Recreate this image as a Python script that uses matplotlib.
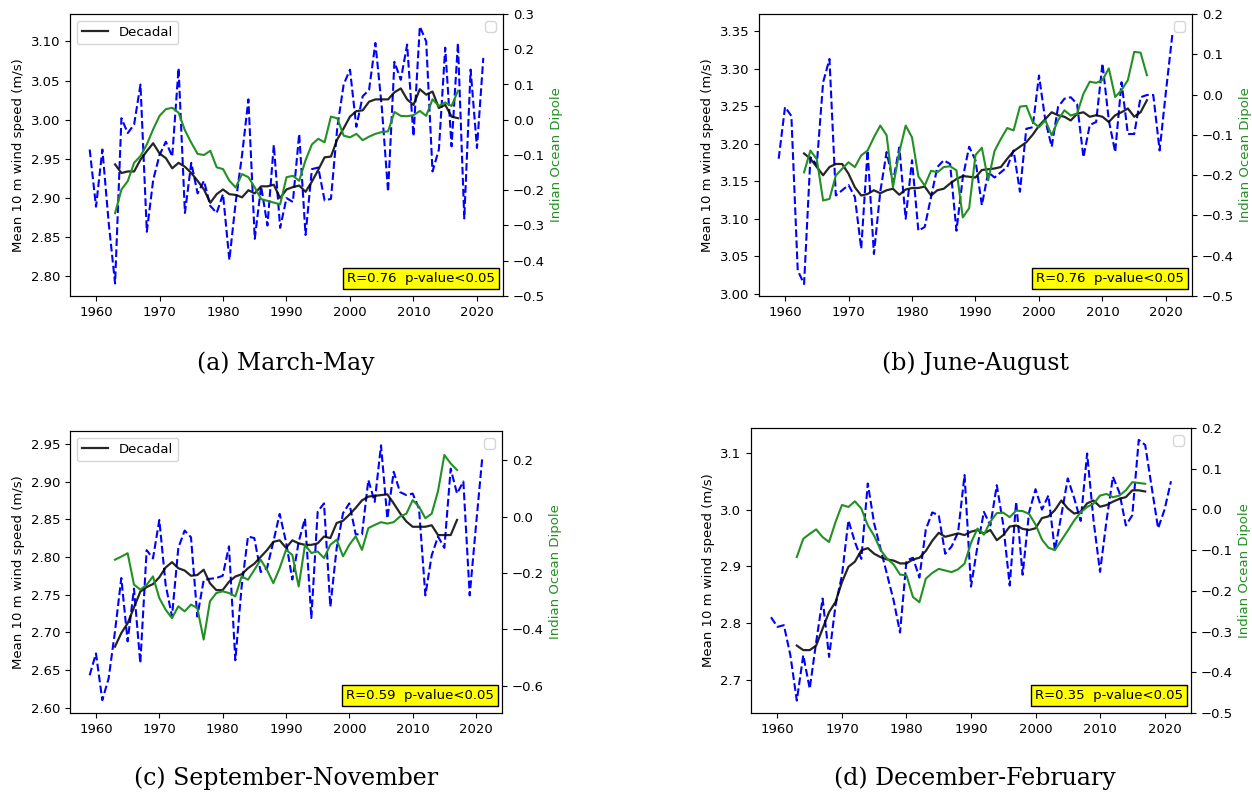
import numpy as np
import matplotlib
matplotlib.use('Agg')
import matplotlib.pyplot as plt
from matplotlib.ticker import MultipleLocator

# years for the seasonal means and for the decadal / IOD curves
years = np.arange(1959, 2022)
years_dec = np.arange(1963, 2018)

# (a) March-May
mam_wind = [2.962, 2.889, 2.962, 2.868, 2.791, 3.002, 2.983, 2.994, 3.045, 2.857,
            2.923, 2.955, 2.972, 2.953, 3.066, 2.881, 2.945, 2.906, 2.922, 2.890,
            2.881, 2.905, 2.821, 2.895, 2.955, 3.026, 2.848, 2.915, 2.865, 2.968,
            2.862, 2.900, 2.895, 2.982, 2.853, 2.937, 2.939, 2.897, 2.899, 2.990,
            3.045, 3.064, 2.991, 3.030, 3.038, 3.098, 3.017, 2.908, 3.074, 3.051,
            3.096, 2.979, 3.119, 3.100, 2.934, 2.962, 3.092, 2.966, 3.098, 2.874,
            3.064, 2.964, 3.079]
mam_decadal = [2.943, 2.932, 2.934, 2.934, 2.949, 2.960, 2.970, 2.957, 2.951, 2.938,
               2.945, 2.940, 2.932, 2.922, 2.911, 2.894, 2.905, 2.911, 2.905, 2.904,
               2.901, 2.910, 2.906, 2.915, 2.915, 2.917, 2.900, 2.911, 2.914, 2.916,
               2.908, 2.921, 2.936, 2.952, 2.953, 2.975, 2.989, 3.004, 3.011, 3.012,
               3.023, 3.026, 3.026, 3.026, 3.035, 3.040, 3.026, 3.019, 3.039, 3.032,
               3.036, 3.015, 3.019, 3.004, 3.002]
mam_iod = [-0.265, -0.198, -0.174, -0.122, -0.103, -0.070, -0.027, 0.011, 0.030, 0.034,
           0.020, -0.030, -0.065, -0.097, -0.100, -0.088, -0.135, -0.140, -0.173, -0.192,
           -0.154, -0.163, -0.192, -0.225, -0.230, -0.235, -0.240, -0.163, -0.159, -0.173,
           -0.115, -0.070, -0.054, -0.064, 0.009, 0.004, -0.045, -0.050, -0.040, -0.058,
           -0.048, -0.040, -0.035, -0.033, 0.022, 0.011, 0.010, 0.013, 0.025, 0.011,
           0.058, 0.039, 0.049, 0.039, 0.082]

# (b) June-August
jja_wind = [3.180, 3.249, 3.237, 3.031, 3.013, 3.182, 3.172, 3.282, 3.313, 3.131,
            3.138, 3.145, 3.129, 3.060, 3.191, 3.053, 3.136, 3.189, 3.149, 3.195,
            3.100, 3.178, 3.084, 3.089, 3.129, 3.169, 3.178, 3.173, 3.084, 3.155,
            3.196, 3.178, 3.118, 3.162, 3.155, 3.162, 3.169, 3.191, 3.136, 3.220,
            3.222, 3.291, 3.231, 3.196, 3.249, 3.260, 3.262, 3.253, 3.182, 3.225,
            3.229, 3.307, 3.231, 3.189, 3.282, 3.213, 3.213, 3.262, 3.265, 3.265,
            3.191, 3.270, 3.345]
jja_decadal = [3.187, 3.180, 3.169, 3.158, 3.169, 3.173, 3.173, 3.160, 3.142, 3.131,
               3.133, 3.138, 3.134, 3.138, 3.140, 3.132, 3.139, 3.141, 3.141, 3.143,
               3.131, 3.138, 3.140, 3.147, 3.153, 3.157, 3.156, 3.155, 3.165, 3.166,
               3.167, 3.169, 3.180, 3.190, 3.196, 3.202, 3.212, 3.224, 3.233, 3.242,
               3.238, 3.236, 3.231, 3.240, 3.242, 3.236, 3.238, 3.236, 3.229, 3.238,
               3.242, 3.247, 3.236, 3.242, 3.258]
jja_iod = [-0.193, -0.139, -0.160, -0.263, -0.259, -0.201, -0.184, -0.168, -0.180, -0.151,
           -0.139, -0.106, -0.077, -0.101, -0.230, -0.143, -0.077, -0.106, -0.203, -0.226,
           -0.189, -0.193, -0.180, -0.178, -0.188, -0.305, -0.282, -0.150, -0.132, -0.213,
           -0.140, -0.110, -0.083, -0.089, -0.030, -0.028, -0.068, -0.081, -0.064, -0.101,
           -0.064, -0.039, -0.052, -0.047, 0.002, 0.032, 0.029, 0.036, 0.065, -0.006,
           0.011, 0.036, 0.106, 0.104, 0.048]

# (c) September-November
son_wind = [2.643, 2.672, 2.610, 2.639, 2.701, 2.772, 2.688, 2.758, 2.659, 2.809,
            2.798, 2.849, 2.763, 2.721, 2.812, 2.835, 2.826, 2.721, 2.769, 2.771,
            2.772, 2.775, 2.814, 2.663, 2.761, 2.827, 2.825, 2.780, 2.785, 2.820,
            2.857, 2.820, 2.770, 2.820, 2.851, 2.719, 2.860, 2.871, 2.734, 2.812,
            2.858, 2.871, 2.830, 2.830, 2.902, 2.873, 2.948, 2.851, 2.913, 2.886,
            2.882, 2.884, 2.864, 2.749, 2.802, 2.827, 2.812, 2.917, 2.884, 2.900,
            2.749, 2.842, 2.933]
son_decadal = [2.681, 2.699, 2.712, 2.733, 2.754, 2.760, 2.764, 2.773, 2.786, 2.793,
               2.785, 2.782, 2.775, 2.776, 2.783, 2.765, 2.756, 2.756, 2.767, 2.774,
               2.777, 2.785, 2.791, 2.800, 2.809, 2.820, 2.822, 2.812, 2.822, 2.818,
               2.816, 2.816, 2.818, 2.827, 2.825, 2.845, 2.848, 2.856, 2.865, 2.875,
               2.880, 2.881, 2.882, 2.883, 2.871, 2.858, 2.847, 2.840, 2.840, 2.840,
               2.842, 2.829, 2.829, 2.829, 2.849]
son_iod = [-0.153, -0.142, -0.130, -0.241, -0.259, -0.242, -0.212, -0.289, -0.330, -0.360,
           -0.318, -0.336, -0.312, -0.324, -0.436, -0.300, -0.271, -0.265, -0.271, -0.283,
           -0.212, -0.224, -0.189, -0.153, -0.189, -0.236, -0.183, -0.118, -0.136, -0.248,
           -0.100, -0.129, -0.124, -0.147, -0.100, -0.082, -0.141, -0.100, -0.070, -0.118,
           -0.041, -0.030, -0.020, -0.025, -0.020, 0.000, 0.010, 0.058, 0.035, -0.006,
           0.010, 0.090, 0.218, 0.188, 0.165]

# (d) December-February
djf_wind = [2.810, 2.793, 2.796, 2.743, 2.663, 2.743, 2.684, 2.766, 2.843, 2.740,
            2.831, 2.884, 2.981, 2.943, 2.913, 3.046, 2.975, 2.930, 2.885, 2.840,
            2.783, 2.910, 2.915, 2.880, 2.965, 2.995, 2.990, 2.922, 2.935, 2.960,
            3.061, 2.864, 2.935, 2.996, 2.972, 3.043, 2.973, 2.866, 3.014, 2.885,
            2.995, 3.036, 3.000, 3.025, 2.928, 2.990, 3.055, 3.020, 2.980, 3.099,
            2.980, 2.890, 2.980, 3.058, 3.030, 2.972, 2.990, 3.123, 3.114, 3.040,
            2.967, 3.000, 3.050]
djf_decadal = [2.760, 2.752, 2.752, 2.760, 2.790, 2.819, 2.837, 2.872, 2.899, 2.908,
               2.928, 2.932, 2.922, 2.916, 2.912, 2.910, 2.905, 2.905, 2.912, 2.915,
               2.927, 2.945, 2.959, 2.952, 2.955, 2.958, 2.955, 2.961, 2.964, 2.958,
               2.964, 2.946, 2.955, 2.970, 2.972, 2.966, 2.964, 2.967, 2.985, 2.988,
               2.999, 3.016, 3.002, 2.993, 2.996, 3.011, 3.016, 3.005, 3.008, 3.014,
               3.019, 3.022, 3.034, 3.034, 3.032]
djf_iod = [-0.117, -0.072, -0.060, -0.049, -0.068, -0.080, -0.031, 0.011, 0.006, 0.020,
           0.002, -0.039, -0.065, -0.100, -0.121, -0.135, -0.160, -0.162, -0.215, -0.228,
           -0.170, -0.156, -0.146, -0.150, -0.154, -0.147, -0.133, -0.082, -0.047, -0.062,
           -0.030, -0.009, -0.008, -0.019, -0.003, -0.004, -0.011, -0.037, -0.074, -0.094,
           -0.100, -0.076, -0.052, -0.027, -0.007, 0.006, 0.014, 0.034, 0.038, 0.030,
           0.034, 0.047, 0.067, 0.065, 0.063]

captions = ['(a) March-May', '(b) June-August',
            '(c) September-November', '(d) December-February']
r_labels = ['R=0.76  p-value<0.05', 'R=0.76  p-value<0.05',
            'R=0.59  p-value<0.05', 'R=0.35  p-value<0.05']

FS = 9.5
GREEN = '#229022'

fig = plt.figure(figsize=(12.52, 7.95), dpi=100)


def draw_panel(rect, wind, decadal, iod, ylim, ylim2, step, step2,
               rtext, caption, cap_x, cap_y, show_legend):
    ax = fig.add_axes(rect)
    ax.plot(years, wind, '--', color='blue', lw=1.5)
    ax.plot(years_dec, decadal, '-', color='k', lw=1.6, alpha=0.85,
            label='Decadal')
    ax.set_ylim(*ylim)
    ax.set_xlim(1955.9, 2024.1)
    ax.xaxis.set_major_locator(MultipleLocator(10))
    ax.yaxis.set_major_locator(MultipleLocator(step))
    ax.set_ylabel('Mean 10 m wind speed (m/s)', fontsize=FS)
    ax.tick_params(labelsize=FS)
    if show_legend:
        ax.legend(loc='upper left', fontsize=FS)

    ax2 = ax.twinx()
    ax2.plot(years_dec, iod, '-', color=GREEN, lw=1.5)
    ax2.set_ylim(*ylim2)
    ax2.yaxis.set_major_locator(MultipleLocator(step2))
    ax2.set_ylabel('Indian Ocean Dipole', color=GREEN, fontsize=FS)
    ax2.tick_params(labelsize=FS)
    # empty legend box, as in the original figure
    ax2.legend(handles=[], loc='upper right')
    ax2.text(0.982, 0.04, rtext, transform=ax2.transAxes, ha='right',
             va='bottom', fontsize=FS,
             bbox=dict(boxstyle='square,pad=0.3', fc='yellow', ec='black'))

    fig.text(cap_x, cap_y, caption, ha='center', va='center', fontsize=17,
             family='DejaVu Serif')


W, H = 1252.0, 795.0
draw_panel([70 / W, 1 - 296 / H, 433 / W, 282 / H], mam_wind, mam_decadal, mam_iod,
           (2.775, 3.135), (-0.5, 0.3), 0.05, 0.1, r_labels[0], captions[0],
           286 / W, 1 - 363 / H, True)
draw_panel([759 / W, 1 - 296 / H, 433 / W, 282 / H], jja_wind, jja_decadal, jja_iod,
           (2.997, 3.373), (-0.5, 0.2), 0.05, 0.1, r_labels[1], captions[1],
           975 / W, 1 - 363 / H, False)
draw_panel([70 / W, 1 - 713 / H, 432 / W, 282 / H], son_wind, son_decadal, son_iod,
           (2.593, 2.967), (-0.696, 0.303), 0.05, 0.2, r_labels[2], captions[2],
           286 / W, 1 - 778 / H, True)
draw_panel([751 / W, 1 - 713 / H, 440 / W, 285 / H], djf_wind, djf_decadal, djf_iod,
           (2.641, 3.144), (-0.5, 0.2), 0.1, 0.1, r_labels[3], captions[3],
           975 / W, 1 - 778 / H, False)

fig.savefig('out.png', dpi=100)
